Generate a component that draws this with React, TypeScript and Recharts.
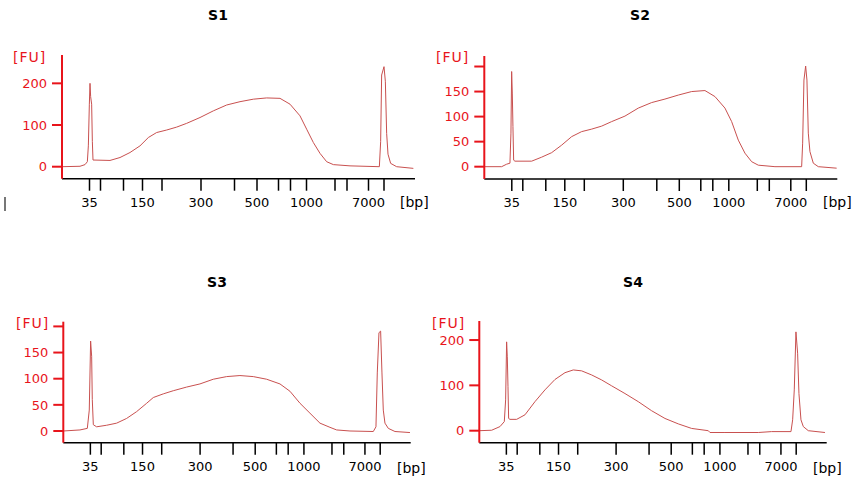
import { LineChart, Line, XAxis, YAxis } from "recharts";

// ladder peaks: size (bp) and migration time (s)
const ladderBp = [35, 50, 100, 150, 200, 300, 400, 500, 600, 700, 1000, 2000, 3000, 7000, 10380];
const ladderTime = [45.5, 47.7, 52.3, 56.1, 60.0, 67.8, 74.5, 79.0, 83.3, 85.7, 88.9, 94.6, 97.0, 101.3, 104.4];
const labeledBp = [35, 150, 300, 500, 1000, 7000];

// [time s, FU]
const s1 = [
  [40, 0], [43.6, 1], [44.6, 5], [45.07, 12], [45.27, 50], [45.47, 150], [45.6, 200], [45.73, 168],
  [45.93, 150], [46.07, 60], [46.2, 16], [49.6, 15], [51.6, 22], [53.6, 34], [55.6, 50], [57.27, 70],
  [58.93, 82], [60.93, 88], [62.93, 95], [64.93, 104], [67.6, 118], [70.27, 134], [72.93, 148],
  [75.6, 156], [78.27, 162], [80.93, 165], [83.6, 164], [85.6, 150], [87.6, 122], [88.93, 90],
  [90.27, 58], [91.6, 32], [92.93, 12], [94.27, 5], [97.6, 2], [103.47, 0], [103.73, 60],
  [103.93, 220], [104.4, 240], [104.67, 205], [104.93, 80], [105.2, 30], [105.73, 8], [106.93, 0],
  [110.27, -4],
];

const s2 = [
  [40, 0], [43.47, 0], [44.47, 5], [45.13, 7], [45.33, 67], [45.47, 190], [45.6, 147], [45.73, 80],
  [45.87, 13], [46.13, 11], [49.47, 11], [51.47, 19], [53.47, 28], [55.47, 43], [57.47, 60],
  [59.47, 70], [61.47, 75], [63.47, 81], [65.47, 90], [68.13, 101], [70.8, 117], [73.47, 128],
  [76.13, 135], [78.8, 143], [81.47, 150], [84.13, 152], [86.13, 140], [88.13, 117], [89.47, 90],
  [90.8, 53], [92.13, 27], [93.47, 10], [94.8, 3], [98.13, 0], [103.47, 0], [103.67, 47],
  [103.93, 173], [104.27, 201], [104.53, 173], [104.8, 67], [105.13, 30], [105.8, 7], [106.8, 0],
  [110.47, -3],
];

const s3 = [
  [40, 0], [43.39, 2], [44.88, 5], [45.28, 40], [45.55, 172], [45.76, 143], [45.89, 60], [46.1, 12],
  [46.77, 8], [48.81, 11], [50.84, 15], [52.87, 24], [54.9, 37], [56.94, 53], [58.29, 64],
  [60.32, 71], [62.35, 77], [65.06, 84], [67.77, 90], [70.48, 99], [73.19, 104], [75.9, 106],
  [78.61, 104], [81.32, 99], [84.03, 90], [86.06, 76], [88.1, 53], [90.13, 34], [92.16, 15],
  [94.19, 7], [95.55, 2], [98.26, 0], [103.0, -1], [103.54, 8], [103.81, 111], [104.15, 188],
  [104.49, 191], [104.76, 111], [105.03, 40], [105.37, 15], [106.05, 5], [107.4, -1], [110.45, -3],
];

const s4 = [
  [40, 0], [42.51, 1], [44.2, 9], [45.08, 20], [45.35, 68], [45.55, 196], [45.69, 163], [45.83, 97],
  [45.96, 27], [46.23, 25], [47.59, 25], [49.28, 35], [51.31, 64], [53.34, 90], [55.38, 113],
  [57.41, 128], [59.1, 134], [60.8, 132], [62.83, 123], [64.86, 112], [66.89, 99], [69.6, 82],
  [72.31, 64], [75.02, 44], [77.73, 27], [80.44, 15], [83.15, 5], [86.54, 0], [86.88, -4],
  [89.92, -4], [96.7, -4], [99.41, -2], [103.34, -2], [103.68, 24], [104.01, 90], [104.35, 218],
  [104.69, 171], [104.96, 82], [105.37, 24], [105.85, 9], [106.86, 0], [110.25, -4],
];

const FONT = "'DejaVu Sans', Verdana, sans-serif";
const RED = "#e8141b";
const TRACE = "#c8504f";

const bpAt = (t: number) => ladderBp[ladderTime.indexOf(t)];

type PanelProps = {
  title: string;
  points: number[][];
  yTicks: number[];
  yShown: number[];
  yDomain: [number, number];
  left: number;
  top: number;
  width: number;
  height: number;
  yAxisWidth: number;
  margin: { top: number; right: number; bottom: number; left: number };
  titleX: number;
  titleY: number;
  fuX: number;
  fuY: number;
  bpX: number;
  bpY: number;
};

const Panel = (p: PanelProps) => {
  const rows = p.points.map(([t, fu]) => ({ t, fu }));
  const XTick = (props: any) => {
    const bp = bpAt(props.payload.value);
    if (!labeledBp.includes(bp)) return <g />;
    return (
      <text x={props.x} y={props.y} dy="0.8em" textAnchor="middle" fill="#000" fontSize={13} fontFamily={FONT}>
        {bp}
      </text>
    );
  };
  const YTick = (props: any) => {
    if (!p.yShown.includes(props.payload.value)) return <g />;
    return (
      <text x={props.x} y={props.y} dy="0.36em" textAnchor="end" fill={RED} fontSize={13} fontFamily={FONT}>
        {props.payload.value}
      </text>
    );
  };
  return (
    <>
      <div style={{ position: "absolute", left: p.titleX, top: p.titleY, transform: "translate(-50%,-50%)", fontFamily: FONT, fontWeight: "bold", fontSize: 14 }}>
        {p.title}
      </div>
      <div style={{ position: "absolute", left: p.fuX, top: p.fuY, transform: "translateY(-50%)", fontFamily: FONT, fontSize: 14, letterSpacing: 1, color: RED }}>
        [FU]
      </div>
      <div style={{ position: "absolute", left: p.bpX, top: p.bpY, transform: "translateY(-50%)", fontFamily: FONT, fontSize: 14, color: "#000" }}>
        [bp]
      </div>
      <div style={{ position: "absolute", left: p.left, top: p.top }}>
        <LineChart width={p.width} height={p.height} data={rows} margin={p.margin}>
          <XAxis
            dataKey="t"
            type="number"
            domain={[40, 110.6]}
            ticks={ladderTime}
            interval={0}
            tick={XTick}
            tickSize={12}
            tickMargin={6}
            height={30}
            stroke="#000"
            axisLine={{ stroke: "#000", strokeWidth: 1.5 }}
            tickLine={{ stroke: "#000", strokeWidth: 1.5 }}
            allowDataOverflow
          />
          <YAxis
            type="number"
            domain={p.yDomain}
            ticks={p.yTicks}
            interval={0}
            tick={YTick}
            tickSize={10}
            tickMargin={5}
            width={p.yAxisWidth}
            axisLine={{ stroke: RED, strokeWidth: 2 }}
            tickLine={{ stroke: RED, strokeWidth: 2 }}
            allowDataOverflow
          />
          <Line dataKey="fu" type="linear" stroke={TRACE} strokeWidth={1} dot={false} isAnimationActive={false} />
        </LineChart>
      </div>
    </>
  );
};

export default function App() {
  return (
    <div style={{ position: "absolute", left: 0, top: 0, width: 854, height: 478, background: "#fff", overflow: "hidden" }}>
      <div style={{ position: "absolute", left: 4, top: 197, width: 1.5, height: 14, background: "#777" }} />
      <Panel
        title="S1" points={s1} yTicks={[0, 100, 200]} yShown={[0, 100, 200]} yDomain={[-28.8, 268]}
        left={0} top={0} width={430} height={240} yAxisWidth={62}
        margin={{ top: 55, right: 15, bottom: 31.3, left: 0 }}
        titleX={218} titleY={15} fuX={13} fuY={57} bpX={400} bpY={202}
      />
      <Panel
        title="S2" points={s2} yTicks={[0, 50, 100, 150, 200]} yShown={[0, 50, 100, 150]} yDomain={[-24.6, 221]}
        left={427} top={0} width={427} height={240} yAxisWidth={57.3}
        margin={{ top: 56, right: 16.7, bottom: 31, left: 0 }}
        titleX={640} titleY={15} fuX={436} fuY={57} bpX={823} bpY={202}
      />
      <Panel
        title="S3" points={s3} yTicks={[0, 50, 100, 150, 200]} yShown={[0, 50, 100, 150]} yDomain={[-22.4, 209]}
        left={0} top={240} width={430} height={238} yAxisWidth={63.3}
        margin={{ top: 81.7, right: 19.3, bottom: 5.3, left: 0 }}
        titleX={217} titleY={282} fuX={16} fuY={323} bpX={397} bpY={468}
      />
      <Panel
        title="S4" points={s4} yTicks={[0, 100, 200]} yShown={[0, 100, 200]} yDomain={[-26.5, 242]}
        left={427} top={240} width={427} height={238} yAxisWidth={52.3}
        margin={{ top: 81, right: 27.3, bottom: 5.3, left: 0 }}
        titleX={633} titleY={282} fuX={432} fuY={323} bpX={813} bpY={468}
      />
    </div>
  );
}
